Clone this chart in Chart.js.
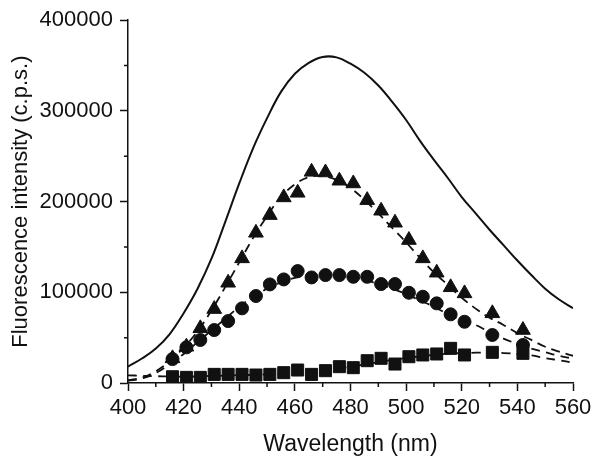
<!DOCTYPE html>
<html>
<head>
<meta charset="utf-8">
<script src="https://cdn.jsdelivr.net/npm/chart.js@4/dist/chart.umd.min.js"></script>
<style>
    body { margin: 0; background: #fff; }
    #box { width: 600px; height: 465px; }
</style>
</head>
<body>
<div id="box"><canvas id="chart"></canvas></div>
<script>
(function () {

    'use strict';

    // wavelengths (nm) for the solid spectrum and the dashed fits
    const lineWl = [400, 405, 410, 415, 420, 425, 430, 435, 440, 445, 450, 455, 460, 465, 470, 475, 480,
        485, 490, 495, 500, 505, 510, 515, 520, 525, 530, 535, 540, 545, 550, 555, 560];

    // solid spectrum
    const spectrum = [18000, 27000, 38000, 54000, 77000, 104000, 137000, 178000, 220000, 259000, 292000,
        321000, 341000, 353000, 359500, 359000, 352000, 342000, 328000, 310000, 290000, 267000, 246000,
        226000, 205000, 187000, 169000, 152000, 135000, 119000, 104000, 92000, 82500];

    // dashed fits
    const fitTriangle = [3000, 6000, 13000, 24000, 39000, 57000, 80000, 106000, 133000, 160000, 184000,
        205000, 219000, 227000, 228000, 224000, 215000, 202000, 187000, 171000, 155000, 138000, 122000,
        108000, 94000, 82000, 72000, 64000, 55000, 47500, 40000, 34500, 30000];
    const fitCircle = [2500, 5000, 11000, 21000, 32000, 45000, 58000, 71000, 84000, 95000, 104000,
        111000, 116000, 118000, 119000, 119000, 117000, 114000, 109000, 104000, 98000, 91000, 84000,
        76000, 69000, 64000, 56000, 49000, 43000, 38000, 34000, 30000, 27000];
    const fitSquare = [8500, 8000, 7500, 7200, 7000, 7200, 7800, 8200, 8600, 9000, 9600, 10400, 11400,
        12600, 14000, 16000, 18000, 20500, 23000, 25500, 27500, 29500, 31000, 32300, 33000, 33400, 33500,
        33000, 32000, 30500, 27500, 25000, 22500];

    // measured points
    const markerWl = [416, 421, 426, 431, 436, 441, 446, 451, 456, 461, 466, 471, 476, 481, 486, 491,
        496, 501, 506, 511, 516, 521, 531, 542];
    const triangles = [27200, 40000, 60300, 81500, 110500, 137400, 165600, 185100, 204600, 209700,
        232800, 232100, 223000, 220000, 201600, 189900, 176700, 157600, 137400, 121600, 105500, 98800,
        76800, 58400];
    const circles = [26400, 39300, 47400, 58400, 68300, 82300, 95900, 108700, 114200, 123400, 116400,
        119000, 119000, 117100, 117100, 109100, 109100, 99500, 95100, 87800, 75700, 67500, 52900, 41900];
    const squares = [6900, 6200, 6200, 9500, 9500, 9500, 8800, 9500, 11400, 14300, 9500, 13600, 18000,
        16900, 24600, 27200, 20900, 29000, 30900, 32000, 38200, 30900, 33800, 32700];

    const ink = '#111';
    const fontName = "'Liberation Sans', Arial, sans-serif";

    window.addEventListener("load", init);

    function init() {
        new Chart(id("chart"), {
            type: 'scatter',
            data: {
                datasets: [
                    lineSet(spectrum, 2, []),
                    lineSet(fitTriangle, 1.8, [9, 6]),
                    lineSet(fitCircle, 1.8, [9, 6]),
                    lineSet(fitSquare, 1.8, [9, 6]),
                    pointSet(triangles, 'triangle', 8.5),
                    pointSet(circles, 'circle', 6.5),
                    pointSet(squares, 'rect', 8.5)
                ]
            },
            options: {
                responsive: true,
                maintainAspectRatio: false,
                animation: false,
                layout: { padding: { top: 20, right: 27, left: 0, bottom: 0 } },
                plugins: { legend: { display: false }, tooltip: { enabled: false } },
                scales: {
                    x: {
                        type: 'linear',
                        min: 400,
                        max: 560,
                        afterFit: (s) => { s.height = 82; },
                        ticks: { stepSize: 20, color: ink, padding: 4, font: { family: fontName, size: 22 } },
                        grid: { drawOnChartArea: false, drawTicks: true, tickLength: 8, tickColor: ink, tickWidth: 1.5 },
                        border: { color: ink, width: 1.5 },
                        title: {
                            display: true, text: 'Wavelength (nm)', color: ink,
                            font: { family: fontName, size: 23 }, padding: { top: 0, bottom: 7 }
                        }
                    },
                    y: {
                        type: 'linear',
                        min: 0,
                        max: 400000,
                        afterFit: (s) => { s.width = 128; },
                        ticks: {
                            stepSize: 100000, color: ink, padding: 7, font: { family: fontName, size: 22 },
                            callback: (v) => String(v)
                        },
                        grid: { drawOnChartArea: false, drawTicks: true, tickLength: 8, tickColor: ink, tickWidth: 1.5 },
                        border: { color: ink, width: 1.5 },
                        title: {
                            display: true, text: 'Fluorescence intensity (c.p.s.)', color: ink,
                            font: { family: fontName, size: 22 }, padding: { top: 8, bottom: 0 }
                        }
                    }
                }
            },
            plugins: [minorTicks]
        });
    }

    function lineSet(values, width, dash) {
        return {
            data: values.map((v, i) => ({ x: lineWl[i], y: v })),
            showLine: true,
            borderColor: ink,
            borderWidth: width,
            borderDash: dash,
            pointRadius: 0,
            tension: 0.4
        };
    }

    function pointSet(values, style, radius) {
        return {
            data: values.map((v, i) => ({ x: markerWl[i], y: v })),
            showLine: false,
            pointStyle: style,
            pointRadius: radius,
            backgroundColor: ink,
            borderColor: ink,
            borderWidth: 1
        };
    }

    // half-step ticks between the labelled ones
    const minorTicks = {
        id: 'minorTicks',
        afterDraw(chart) {
            const ctx = chart.ctx;
            const xs = chart.scales.x;
            const ys = chart.scales.y;
            ctx.save();
            ctx.strokeStyle = ink;
            ctx.lineWidth = 1.5;
            ctx.beginPath();
            for (let v = 410; v < 560; v += 20) {
                let px = xs.getPixelForValue(v);
                ctx.moveTo(px, xs.top);
                ctx.lineTo(px, xs.top + 4);
            }
            for (let v = 50000; v < 400000; v += 100000) {
                let py = ys.getPixelForValue(v);
                ctx.moveTo(ys.right, py);
                ctx.lineTo(ys.right - 4, py);
            }
            ctx.stroke();
            ctx.restore();
        }
    };

    function id(idName) {
        return document.getElementById(idName);
    }

})();
</script>
</body>
</html>
